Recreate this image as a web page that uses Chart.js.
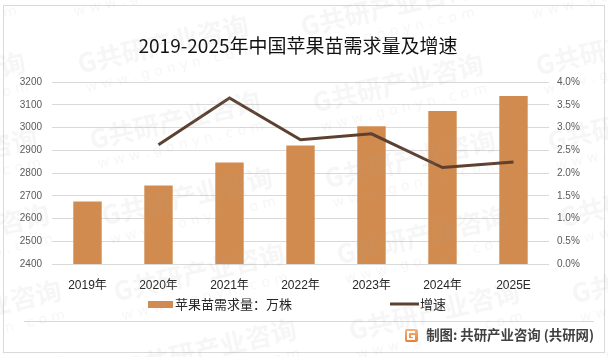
<!DOCTYPE html>
<html>
<head>
<meta charset="utf-8">
<script src="https://cdn.jsdelivr.net/npm/chart.js@4/dist/chart.umd.min.js"></script>
<style>
  html, body { margin: 0; padding: 0; background: #fff; }
  #wrap { width: 608px; height: 357px; position: relative; }
</style>
</head>
<body>
<div id="wrap"><canvas id="c" width="608" height="357"></canvas></div>
<script>
const categories = ['2019年', '2020年', '2021年', '2022年', '2023年', '2024年', '2025E'];
const demandValues = [2675, 2745, 2846, 2921, 3005, 3072, 3138];
const growthValues = [null, 2.62, 3.65, 2.73, 2.86, 2.12, 2.24];
const demandLabel = '苹果苗需求量：万株';
const growthLabel = '增速';
const titleText = '2019-2025年中国苹果苗需求量及增速';
const footerText = '制图: 共研产业咨询 (共研网)';
const leftAxisRange = [2400, 3200, 100];
const rightAxisRange = [0, 4, 0.5];

const CJK = '"Noto Sans CJK SC", "Liberation Sans", sans-serif';
const TICK = '"Liberation Sans", "Noto Sans CJK SC", sans-serif';

const chrome = {
  id: 'chrome',
  beforeDraw(chart) {
    const ctx = chart.ctx;
    ctx.save();
    ctx.fillStyle = '#ffffff';
    ctx.fillRect(0, 0, chart.width, chart.height);
    ctx.restore();
  },
  afterDraw(chart) {
    const ctx = chart.ctx;
    ctx.save();
    // border
    ctx.strokeStyle = '#d9d9d9';
    ctx.lineWidth = 1;
    ctx.strokeRect(3.5, 5.5, 601, 347);
    // title
    ctx.fillStyle = '#111111';
    ctx.font = '19px ' + CJK;
    ctx.textAlign = 'center';
    ctx.textBaseline = 'middle';
    ctx.fillText(titleText, 298, 46);
    // legend
    const ds = chart.data.datasets;
    ctx.font = '13px ' + CJK;
    ctx.textAlign = 'left';
    ctx.fillStyle = ds[0].backgroundColor;
    ctx.fillRect(148, 301, 25, 7);
    ctx.fillStyle = '#262626';
    ctx.fillText(ds[0].label, 175, 304);
    ctx.strokeStyle = ds[1].borderColor;
    ctx.lineWidth = 3;
    ctx.beginPath();
    ctx.moveTo(390, 304);
    ctx.lineTo(419, 304);
    ctx.stroke();
    ctx.fillStyle = '#262626';
    ctx.fillText(ds[1].label, 420, 304);
    // separator
    ctx.strokeStyle = '#d9d9d9';
    ctx.lineWidth = 1;
    ctx.beginPath();
    ctx.moveTo(24, 321.5);
    ctx.lineTo(594, 321.5);
    ctx.stroke();
    // footer logo
    const g = ctx.createLinearGradient(405, 329, 405, 342);
    g.addColorStop(0, '#f7b27a');
    g.addColorStop(1, '#ee7f2d');
    ctx.fillStyle = g;
    ctx.beginPath();
    ctx.roundRect(405, 329, 13, 13, 2);
    ctx.fill();
    ctx.strokeStyle = '#ffffff';
    ctx.lineWidth = 2;
    ctx.beginPath();
    ctx.moveTo(415, 332);
    ctx.lineTo(408, 332);
    ctx.lineTo(408, 339);
    ctx.lineTo(414, 339);
    ctx.lineTo(414, 336);
    ctx.lineTo(411, 336);
    ctx.stroke();
    // footer text
    ctx.fillStyle = '#404040';
    ctx.font = 'bold 13.4px ' + CJK;
    ctx.textAlign = 'right';
    ctx.fillText(footerText, 594, 335);
    // watermark lattice
    ctx.fillStyle = 'rgba(170,170,170,0.10)';
    for (let i = -2; i <= 3; i++) {
      for (let j = -3; j <= 5; j++) {
        const cx = 175 + 223 * i + 12 * j;
        const cy = 120 - 37 * i + 76 * j;
        if (cx < -120 || cx > 730 || cy < -40 || cy > 400) continue;
        ctx.save();
        ctx.translate(cx, cy);
        ctx.rotate(-0.23);
        ctx.textAlign = 'center';
        ctx.textBaseline = 'middle';
        ctx.font = 'bold 26px ' + CJK;
        ctx.fillText('G共研产业咨询', 0, 0);
        ctx.font = '14px "DejaVu Sans", sans-serif';
        ctx.fillText('w w w . g o n y n . c o m', 0, 26);
        ctx.restore();
      }
    }
    ctx.restore();
  }
};

new Chart(document.getElementById('c'), {
  data: {
    labels: categories,
    datasets: [
      {
        type: 'bar',
        label: demandLabel,
        data: demandValues,
        backgroundColor: '#d28b4e',
        barPercentage: 0.4,
        categoryPercentage: 1.0,
        yAxisID: 'y',
        order: 2
      },
      {
        type: 'line',
        label: growthLabel,
        data: growthValues,
        borderColor: '#5c4030',
        borderWidth: 3,
        pointRadius: 0,
        tension: 0,
        fill: false,
        yAxisID: 'y1',
        order: 1
      }
    ]
  },
  options: {
    responsive: false,
    animation: false,
    layout: { padding: { left: 0, right: 0, top: 82, bottom: 53 } },
    plugins: { legend: { display: false }, title: { display: false }, tooltip: { enabled: false } },
    scales: {
      x: {
        grid: { display: false, drawTicks: false },
        border: { display: false },
        ticks: { color: '#262626', font: { size: 12, family: TICK }, padding: 14, maxRotation: 0 },
        afterFit(s) { s.height = 40; }
      },
      y: {
        position: 'left',
        min: leftAxisRange[0], max: leftAxisRange[1],
        ticks: { stepSize: leftAxisRange[2], color: '#595959', font: { size: 10, family: TICK }, padding: 10,
          callback: v => String(v) },
        grid: { color: '#d9d9d9', lineWidth: 1, drawTicks: false },
        border: { display: false },
        afterFit(s) { s.width = 52; }
      },
      y1: {
        position: 'right',
        min: rightAxisRange[0], max: rightAxisRange[1],
        ticks: { stepSize: rightAxisRange[2], color: '#595959', font: { size: 10, family: TICK }, padding: 8,
          callback: v => v.toFixed(1) + '%' },
        grid: { display: false, drawTicks: false },
        border: { display: false },
        afterFit(s) { s.width = 59; }
      }
    }
  },
  plugins: [chrome]
});
</script>
</body>
</html>
